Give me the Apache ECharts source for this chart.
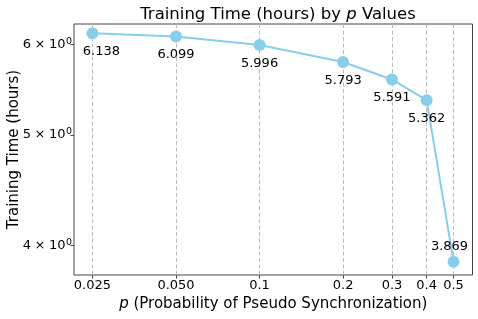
<!DOCTYPE html>
<html>
<head>
<meta charset="utf-8">
<script src="https://cdn.jsdelivr.net/npm/echarts@6/dist/echarts.min.js"></script>
<style>
html,body{margin:0;padding:0;background:#fff;}
#chart{width:478px;height:319px;}
</style>
</head>
<body>
<div id="chart"></div>
<script>
// Data
const pValues = [0.025, 0.05, 0.1, 0.2, 0.3, 0.4, 0.5];
const trainingHours = [6.138, 6.099, 5.996, 5.793, 5.591, 5.362, 3.869];
const dataLabels = ['6.138', '6.099', '5.996', '5.793', '5.591', '5.362', '3.869'];
const xTickValues = [0.025, 0.05, 0.1, 0.2, 0.3, 0.4, 0.5];
const xTickLabels = ['0.025', '0.050', '0.1', '0.2', '0.3', '0.4', '0.5'];
const yTickValues = [4, 5, 6];
const yTickMantissa = ['4', '5', '6'];

function lookupIndex(vals, v) {
  for (let i = 0; i < vals.length; i++) {
    if (Math.abs(vals[i] - v) < 1e-6 * Math.max(1, Math.abs(v))) return i;
  }
  return -1;
}

const FONT = 'DejaVu Sans';
const chart = echarts.init(document.getElementById('chart'), null, {renderer: 'canvas'});

const seriesData = pValues.map((p, i) => {
  const item = {value: [p, trainingHours[i]]};
  if (i === 0) item.label = {offset: [9, 0]};
  if (i === pValues.length - 1) item.label = {position: 'top', distance: 2.5, offset: [-4, 0]};
  return item;
});

chart.setOption({
  animation: false,
  backgroundColor: '#fff',
  title: {
    text: '{n|Training Time (hours) by }{i|p}{n| Values}',
    left: 273,
    top: 1,
    textAlign: 'center',
    textStyle: {
      fontWeight: 'normal',
      rich: {
        n: {fontFamily: FONT, fontSize: 16.5, fontWeight: 'normal', color: '#000'},
        i: {fontFamily: FONT, fontSize: 16.5, fontWeight: 'normal', fontStyle: 'italic', color: '#000'}
      }
    }
  },
  grid: {
    left: 74, right: 5.5, top: 24, bottom: 44,
    outerBoundsMode: 'none',
    containLabel: false,
    show: true, borderColor: '#444', borderWidth: 1, backgroundColor: 'transparent'
  },
  xAxis: {
    type: 'log',
    logBase: 10,
    min: 0.02145,
    max: 0.5852,
    name: '{i|p}{n| (Probability of Pseudo Synchronization)}',
    nameLocation: 'middle',
    nameGap: 19,
    nameTextStyle: {
      rich: {
        n: {fontFamily: FONT, fontSize: 15, color: '#000'},
        i: {fontFamily: FONT, fontSize: 15, fontStyle: 'italic', color: '#000'}
      }
    },
    axisLine: {show: false},
    axisTick: {show: true, customValues: xTickValues, length: 3.5, inside: false, lineStyle: {color: '#444', width: 1}},
    axisLabel: {
      customValues: xTickValues,
      formatter: v => { const i = lookupIndex(xTickValues, v); return i >= 0 ? xTickLabels[i] : ''; },
      fontFamily: FONT, fontSize: 13, color: '#000', margin: 4
    },
    splitLine: {show: true, lineStyle: {color: '#bbb', type: [4, 2.5], width: 1}},
    minorTick: {show: false},
    minorSplitLine: {show: false}
  },
  yAxis: {
    type: 'log',
    logBase: 10,
    min: 3.766,
    max: 6.255,
    name: 'Training Time (hours)',
    nameLocation: 'middle',
    nameGap: 52.5,
    nameRotate: 90,
    nameMoveOverlap: false,
    nameTextStyle: {fontFamily: FONT, fontSize: 15, color: '#000'},
    axisLine: {show: false},
    axisTick: {show: true, customValues: yTickValues, length: 3.5, lineStyle: {color: '#444'}},
    axisLabel: {
      customValues: yTickValues,
      formatter: v => { const i = lookupIndex(yTickValues, v); return i >= 0 ? '{b|' + yTickMantissa[i] + '}{x|×}{b|10}{s|0}' : ''; },
      margin: 2,
      rich: {
        b: {fontFamily: FONT, fontSize: 13, color: '#000', lineHeight: 16},
        x: {fontFamily: FONT, fontSize: 13, color: '#000', lineHeight: 16, padding: [0, 3.5, 0, 3.5]},
        s: {fontFamily: FONT, fontSize: 9.5, color: '#000', verticalAlign: 'top', lineHeight: 6, padding: [0, 0, 0, 0.5]}
      }
    },
    splitLine: {show: false}
  },
  series: [{
    type: 'line',
    data: seriesData,
    symbol: 'circle',
    symbolSize: 12,
    lineStyle: {color: '#87CEEB', width: 2},
    itemStyle: {color: '#87CEEB'},
    label: {
      show: true,
      position: 'bottom',
      distance: 5.5,
      formatter: p => dataLabels[p.dataIndex],
      fontFamily: FONT, fontSize: 13, color: '#000', lineHeight: 14
    },
    z: 3
  }]
});
</script>
</body>
</html>
